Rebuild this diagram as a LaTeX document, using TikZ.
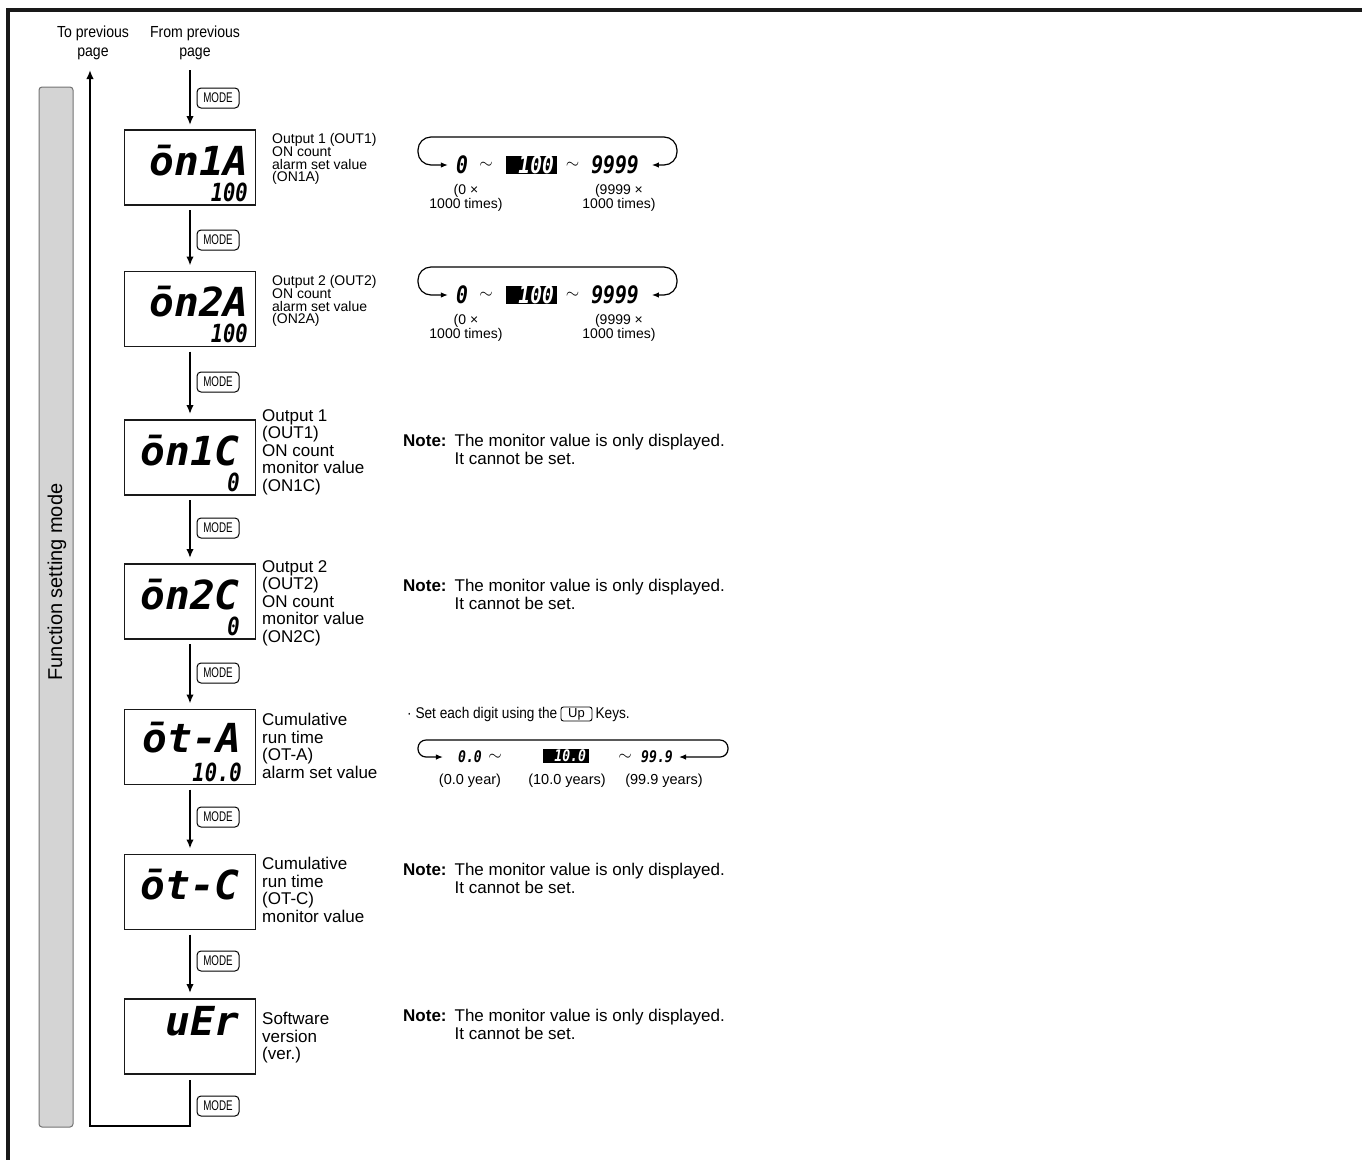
\documentclass[tikz,border=0pt]{standalone}
\usepackage{fontspec}
\setmainfont{Liberation Sans}
\newfontfamily\condf{Liberation Sans}[FakeStretch=0.70]
\newfontfamily\condg{Liberation Sans}[FakeStretch=0.88]
\newfontfamily\segA{DejaVu Sans Mono}[FakeStretch=1.03]
\newfontfamily\segB{DejaVu Sans Mono}[FakeStretch=0.82]
\usetikzlibrary{arrows.meta}
\newcommand\myfs[2]{\fontsize{#1}{#2}\selectfont}
\tikzset{
  disp/.style={draw=black!90, line width=1.1pt, minimum width=131pt, minimum height=75pt, inner sep=0pt, outer sep=0pt},
  segbig/.style={font=\segA\bfseries\itshape\myfs{40}{40}, inner sep=0pt, anchor=base east},
  segsub/.style={font=\segB\bfseries\itshape\myfs{25}{25}, inner sep=0pt, anchor=base east},
  segcyc/.style={font=\segB\bfseries\itshape\myfs{24}{24}, inner sep=0pt},
  segcycs/.style={font=\segB\bfseries\itshape\myfs{16}{16}, inner sep=0pt},
  curbox/.style={fill=black, text=white, font=\segB\bfseries\itshape\myfs{24}{24}, inner xsep=3pt, inner ysep=0pt, minimum height=18pt, text width=45pt, align=right},
  curboxs/.style={fill=black, text=white, font=\segB\bfseries\itshape\myfs{16}{16}, inner xsep=3pt, inner ysep=0pt, minimum height=14pt, text width=40pt, align=right},
  tld/.style={font=\myfs{18}{18}, inner sep=0pt},
  modekey/.style={draw, line width=1pt, rounded corners=4pt, minimum width=42pt, minimum height=20pt, inner sep=0pt, font=\condf\myfs{14}{14}},
  upkey/.style={draw, line width=0.9pt, rounded corners=2.5pt, minimum width=31pt, minimum height=14pt, inner sep=0pt, font=\myfs{13}{13}},
  flow/.style={line width=1.7pt, -{Latex[length=9pt,width=7.5pt]}},
  cyc/.style={line width=1.2pt, {Latex[length=7pt,width=5.5pt]}-{Latex[length=7pt,width=5.5pt]}},
  lblA/.style={align=left, anchor=west, font=\myfs{14}{12.5}, inner sep=0pt},
  lblB/.style={align=left, anchor=west, font=\myfs{17}{17.5}, inner sep=0pt},
  note/.style={align=left, anchor=north west, font=\myfs{17}{17.5}, inner sep=0pt},
  cyclbl/.style={align=center, font=\myfs{14}{14}, inner sep=0pt},
  cyclbls/.style={align=center, font=\myfs{14.5}{14.5}, inner sep=0pt},
  toplbl/.style={align=center, font=\condg\myfs{16}{19}, inner sep=0pt},
  sidebar/.style={draw=black!55, fill=black!17, line width=1pt, rounded corners=3pt, minimum width=34pt, minimum height=1040pt, inner sep=0pt},
  setl/.style={anchor=base west, font=\condg\myfs{15.5}{15.5}, inner sep=0pt}
}
\begin{document}
\begin{tikzpicture}[x=1pt,y=-1pt]
\useasboundingbox (0,0) rectangle (1362,1160);
\draw[line width=4pt, black!90] (1362,10) -- (8,10) -- (8,1160);

% side bar
\node[sidebar] (bar) at (56,607) {};
\node[rotate=90, font=\myfs{20}{20}, inner sep=0pt] (fsm) at (57,582) {Function setting mode};

% top labels
\node[toplbl] (toprev) at (93,43) {To previous\\page};
\node[toplbl] (fromprev) at (195,43) {From previous\\page};
\coordinate (fp) at (190,70);
\coordinate (lt) at (90,70);
\coordinate (rb) at (190,1126);
\coordinate (lb) at (90,1126);

% display boxes
\node[disp] (b1) at (190,167.5) {};
\node[disp] (b2) at (190,309) {};
\node[disp] (b3) at (190,457.5) {};
\node[disp] (b4) at (190,601.5) {};
\node[disp] (b5) at (190,747) {};
\node[disp] (b6) at (190,892) {};
\node[disp] (b7) at (190,1036.5) {};

% display texts
\node[segbig] (d1) at (249,175) {ōn1A};
\node[segsub] (s1) at (248,201) {100};
\node[segbig] (d2) at (249,316.5) {ōn2A};
\node[segsub] (s2) at (248,342.5) {100};
\node[segbig] (d3) at (240,465) {ōn1C};
\node[segsub] (s3) at (240,491) {0};
\node[segbig] (d4) at (240,609) {ōn2C};
\node[segsub] (s4) at (240,635) {0};
\node[segbig] (d5) at (242,752) {ōt-A};
\node[segsub] (s5) at (242,781) {10.0};
\node[segbig] (d6) at (240,899.5) {ōt-C};
\node[segbig] (d7) at (240,1035) {uEr};

% MODE keys
\node[modekey] (k1) at (218,98) {MODE};
\node[modekey] (k2) at (218,240) {MODE};
\node[modekey] (k3) at (218,382) {MODE};
\node[modekey] (k4) at (218,528) {MODE};
\node[modekey] (k5) at (218,673) {MODE};
\node[modekey] (k6) at (218,817) {MODE};
\node[modekey] (k7) at (218,961) {MODE};
\node[modekey] (k8) at (218,1106) {MODE};

% flow
\draw[flow, shorten >=5pt] (fp) -- (b1);
\draw[flow, shorten <=5pt, shorten >=6pt] (b1) -- (b2);
\draw[flow, shorten <=5pt, shorten >=6pt] (b2) -- (b3);
\draw[flow, shorten <=5pt, shorten >=6pt] (b3) -- (b4);
\draw[flow, shorten <=5pt, shorten >=6pt] (b4) -- (b5);
\draw[flow, shorten <=5pt, shorten >=6pt] (b5) -- (b6);
\draw[flow, shorten <=5pt, shorten >=6pt] (b6) -- (b7);
\draw[flow, shorten <=6pt] (b7) -- (rb) -- (lb) -- (lt);

% labels
\node[lblA] (l1) at (272,159) {Output 1 (OUT1)\\ON count\\alarm set value\\(ON1A)};
\node[lblA] (l2) at (272,301) {Output 2 (OUT2)\\ON count\\alarm set value\\(ON2A)};
\node[lblB] (l3) at (262,452) {Output 1\\(OUT1)\\ON count\\monitor value\\(ON1C)};
\node[lblB] (l4) at (262,603) {Output 2\\(OUT2)\\ON count\\monitor value\\(ON2C)};
\node[lblB] (l5) at (262,746) {Cumulative\\run time\\(OT-A)\\alarm set value};
\node[lblB] (l6) at (262,890) {Cumulative\\run time\\(OT-C)\\monitor value};
\node[lblB] (l7) at (262,1038) {Software\\version\\(ver.)};

% notes
\node[note] (n3) at (403,434) {\textbf{Note:}\hspace{8pt}The monitor value is only displayed.\\\hphantom{\textbf{Note:}\hspace{8pt}}It cannot be set.};
\node[note] (n4) at (403,579) {\textbf{Note:}\hspace{8pt}The monitor value is only displayed.\\\hphantom{\textbf{Note:}\hspace{8pt}}It cannot be set.};
\node[note] (n6) at (403,863) {\textbf{Note:}\hspace{8pt}The monitor value is only displayed.\\\hphantom{\textbf{Note:}\hspace{8pt}}It cannot be set.};
\node[note] (n7) at (403,1009) {\textbf{Note:}\hspace{8pt}The monitor value is only displayed.\\\hphantom{\textbf{Note:}\hspace{8pt}}It cannot be set.};

% cycle 1
\node[segcyc] (c1min) at (462,165) {0};
\node[tld] (c1t1) at (486,165) {$\sim$};
\node[curbox] (c1cur) at (531.5,165) {100};
\node[tld] (c1t2) at (572.5,165) {$\sim$};
\node[segcyc] (c1max) at (615,165) {9999};
\draw[cyc, rounded corners=13pt, shorten <=13pt, shorten >=8pt] (c1max.east) -- (677,165) -- (677,137) -- (418,137) -- (418,165) -- (c1min.west);
\node[cyclbl] (c1a) at (466,198) {(0 ×\\1000 times)};
\node[cyclbl] (c1b) at (619,198) {(9999 ×\\1000 times)};

% cycle 2
\node[segcyc] (c2min) at (462,295) {0};
\node[tld] (c2t1) at (486,295) {$\sim$};
\node[curbox] (c2cur) at (531.5,295) {100};
\node[tld] (c2t2) at (572.5,295) {$\sim$};
\node[segcyc] (c2max) at (615,295) {9999};
\draw[cyc, rounded corners=13pt, shorten <=13pt, shorten >=8pt] (c2max.east) -- (677,295) -- (677,267) -- (418,267) -- (418,295) -- (c2min.west);
\node[cyclbl] (c2a) at (466,328) {(0 ×\\1000 times)};
\node[cyclbl] (c2b) at (619,328) {(9999 ×\\1000 times)};

% cycle 3
\node[setl] (setl) at (407,718) {· Set each digit using the};
\node[upkey, anchor=west, xshift=3pt] (up) at (setl.east) {Up};
\node[setl, xshift=3pt] (keys) at (up.east |- setl.base) {Keys.};
\node[segcycs] (c3min) at (470,757) {0.0};
\node[tld] (c3t1) at (495,757) {$\sim$};
\node[curboxs] (c3cur) at (566,756) {10.0};
\node[tld] (c3t2) at (625,757) {$\sim$};
\node[segcycs] (c3max) at (657,757) {99.9};
\draw[cyc, rounded corners=8pt, shorten <=6pt, shorten >=15pt] (c3max.east) -- (728,757) -- (728,740) -- (418,740) -- (418,757) -- (c3min.west);
\node[cyclbls] (c3a) at (470,781) {(0.0 year)};
\node[cyclbls] (c3b) at (567,781) {(10.0 years)};
\node[cyclbls] (c3c) at (664,781) {(99.9 years)};
\end{tikzpicture}
\end{document}
